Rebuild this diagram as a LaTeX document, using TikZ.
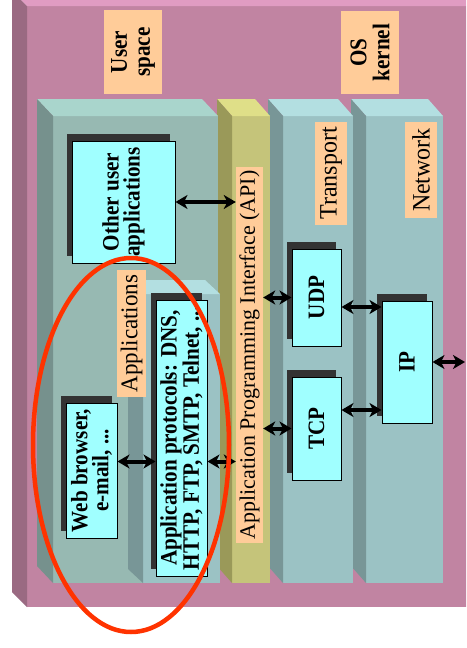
\documentclass[tikz,border=0pt]{standalone}
\usepackage{fontspec}
\setmainfont{Liberation Serif}
\usetikzlibrary{arrows.meta,shadows,shapes.geometric}
\definecolor{slF}{HTML}{C184A2}
\definecolor{slT}{HTML}{E09CC2}
\definecolor{slL}{HTML}{9A6A82}
\definecolor{uaF}{HTML}{97B9B2}
\definecolor{uaT}{HTML}{A9D5CC}
\definecolor{uaL}{HTML}{76918D}
\definecolor{apF}{HTML}{C5C47A}
\definecolor{apT}{HTML}{DFDF88}
\definecolor{apL}{HTML}{9A9959}
\definecolor{krF}{HTML}{9BC2C4}
\definecolor{krT}{HTML}{B3DFE1}
\definecolor{krL}{HTML}{789697}
\definecolor{peach}{HTML}{FFCC99}
\definecolor{cyanc}{HTML}{A0FFFF}
\definecolor{shadowc}{HTML}{333333}
\definecolor{redc}{HTML}{FF3300}
\newcommand{\prism}[7]{%
  \fill[#7F] (#1,#2) rectangle (#3,#4);
  \fill[#7T] (#1,#2) -- (#3,#2) -- ++(#5,#6) -- ++({#1-#3},0) -- cycle;
  \fill[#7L] (#1,#2) -- ++(#5,#6) -- ++(0,{#4-#2}) -- (#1,#4) -- cycle;}
\begin{document}
\begin{tikzpicture}[x=1pt,y=-1pt,
  cyanbox/.style={draw=black, line width=1pt, fill=cyanc, inner sep=0pt,
    general shadow={fill=shadowc, shadow xshift=-5pt, shadow yshift=7pt}},
  boxtext/.style={rotate=90, xscale=0.9, align=center, inner sep=0pt,
    font=\bfseries\fontsize{23.5}{21}\selectfont},
  labelbox/.style={fill=peach, inner sep=0pt},
  bigtag/.style={rotate=90, xscale=0.88, align=center, inner sep=0pt,
    font=\bfseries\fontsize{24}{23}\selectfont},
  tagtext/.style={rotate=90, xscale=0.96, inner sep=0pt, font=\fontsize{25}{26}\selectfont},
  dbl/.style={{Stealth[length=12pt,width=14pt,inset=3.5pt]}-{Stealth[length=12pt,width=14pt,inset=3.5pt]}, line width=4pt, black},
  ring/.style={ellipse, draw=redc, line width=4.5pt, inner sep=0pt}]
\useasboundingbox (0,0) rectangle (466,648);
\clip (0,0) rectangle (466,648);
\fill[white] (0,0) rectangle (466,648);
% outer slab
\prism{27}{6}{490}{607}{-15}{-15}{sl}
% columns (right to left)
\prism{366}{116}{443}{583}{-15}{-17}{kr}
\prism{283}{116}{353}{583}{-15}{-17}{kr}
\prism{232}{116}{270}{583}{-15}{-17}{ap}
\prism{53}{116}{218}{583}{-16}{-17}{ua}
\prism{143}{294}{220}{583}{-15}{-14}{kr}
% labels
\node[labelbox, minimum width=58pt, minimum height=84pt] (us) at (133,52) {};
\node[bigtag] (ust) at (us) {User\\space};
\node[labelbox, minimum width=58pt, minimum height=83pt] (osk) at (370,52.5) {};
\node[bigtag] (oskt) at (osk) {OS\\kernel};
\node[labelbox, minimum width=32pt, minimum height=103pt] (tr) at (331,173.5) {};
\node[tagtext] (trt) at (tr) {Transport};
\node[labelbox, minimum width=32pt, minimum height=96pt] (nw) at (421,170) {};
\node[tagtext] (nwt) at (nw) {Network};
\node[labelbox, minimum width=29pt, minimum height=127pt] (apl) at (131.5,333.5) {};
\node[tagtext, font=\fontsize{24}{26}\selectfont] (aplt) at (apl) {Applications};
\node[labelbox, minimum width=27pt, minimum height=376pt] (apil) at (249.5,355) {};
\node[tagtext, xscale=1.04, font=\fontsize{22}{24}\selectfont] (apilt) at (apil) {Application Programming Interface (API)};
% cyan boxes
\node[cyanbox, minimum width=103pt, minimum height=122pt] (oua) at (123.5,202) {};
\node[boxtext] (ouat) at (oua) {Other user\\applications};
\node[cyanbox, minimum width=51pt, minimum height=135pt] (web) at (91.5,470.5) {};
\node[boxtext] (webt) at (web) {Web browser,\\e-mail, ...};
\node[cyanbox, minimum width=51pt, minimum height=276pt] (appp) at (181.5,438) {};
\node[boxtext] (apppt) at (appp) {Application protocols: DNS,\\HTTP, FTP, SMTP, Telnet, ...};
\node[cyanbox, minimum width=49pt, minimum height=97pt] (udp) at (316.5,297.5) {};
\node[boxtext] (udpt) at (udp) {UDP};
\node[cyanbox, minimum width=49pt, minimum height=103pt] (tcp) at (316.5,428.5) {};
\node[boxtext] (tcpt) at (tcp) {TCP};
\node[cyanbox, minimum width=50pt, minimum height=122pt] (ip) at (407,362) {};
\node[boxtext] (ipt) at (ip) {IP};
% arrows
\draw[dbl] (oua.east) -- (oua.east -| apil.west);
\coordinate (wa) at ([yshift=9pt]web.east);
\draw[dbl] (wa) -- (wa -| appp.west);
\coordinate (pa) at (wa -| appp.east);
\draw[dbl] (pa) -- (pa -| apil.west);
\draw[dbl] (udp.west -| apil.east) -- (udp.west);
\draw[dbl] (tcp.west -| apil.east) -- (tcp.west);
\coordinate (ua) at ([yshift=-9.5pt]udp.east);
\draw[dbl] (ua) -- (ua -| ip.west);
\coordinate (ta) at ([yshift=18.5pt]tcp.east);
\draw[dbl] (ta) -- (ta -| ip.west);
\coordinate (ipout) at (465,362);
\draw[dbl] (ip.east) -- (ipout);
% red ellipse
\node[ring, minimum width=196pt, minimum height=374pt] (ell) at (131,445) {};
\end{tikzpicture}
\end{document}
